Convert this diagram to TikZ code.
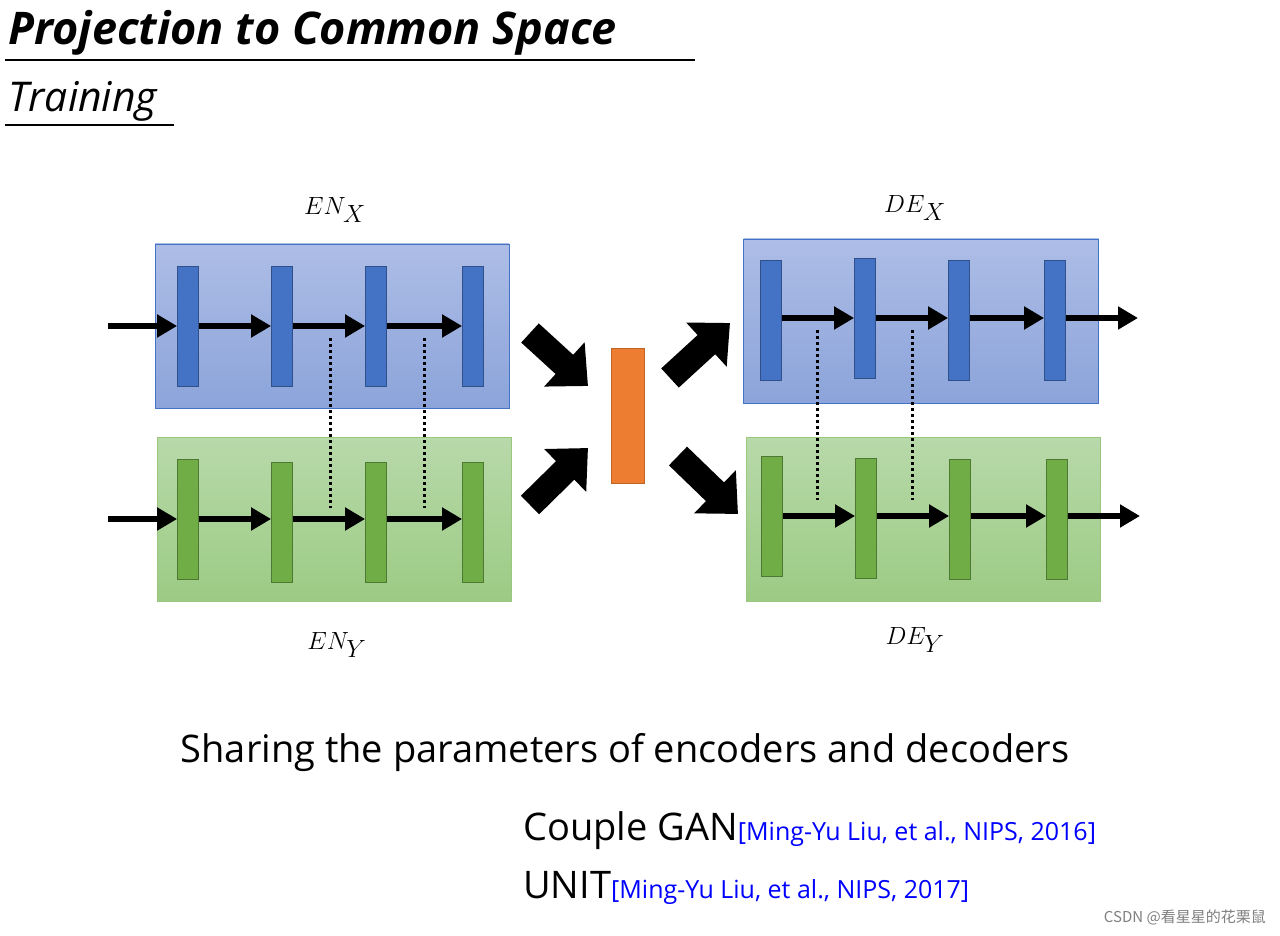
\documentclass[tikz,border=0pt]{standalone}
\usepackage{fontspec}
\setmainfont{Open Sans}
\newfontfamily\cjk{Noto Sans CJK SC}
\usetikzlibrary{arrows.meta}
\begin{document}
\begin{tikzpicture}[x=1pt,y=-1pt,
  bluebox/.style={draw=blue!50!cyan!60!black!70,line width=0.8pt,top color=blue!25!cyan!10!white!70!blue,bottom color=blue!40!white!75!black},
  arr/.style={line width=6pt,-{Triangle[length=20pt,width=22pt]}},
  big/.style={line width=26pt,-{Triangle[length=32pt,width=58pt]}},
  dot/.style={line width=3pt,dash pattern=on 3pt off 3pt},
  lab/.style={font=\fontsize{40}{44}\selectfont},
  bb/.style={draw=#1!70!black,fill=#1,line width=0.8pt,minimum width=21pt,minimum height=120pt,inner sep=0pt}]
\definecolor{bbar}{HTML}{4472C4}
\definecolor{gbar}{HTML}{70AD47}
\definecolor{btop}{HTML}{ADBDE6}\definecolor{bbot}{HTML}{8CA4DA}
\definecolor{gtop}{HTML}{B8D9AA}\definecolor{gbot}{HTML}{9CCB84}
\definecolor{orng}{HTML}{ED7D31}
\useasboundingbox (0,0) rectangle (1280,936);
\fill[white] (0,0) rectangle (1280,936);
% titles
\node[anchor=base west,inner sep=0pt,font=\fontsize{45}{50}\selectfont\bfseries\itshape] (t) at (8,45) {Projection to Common Space};
\draw[line width=1.2pt] (5,60) -- (695,60);
\node[anchor=base west,inner sep=0pt,font=\fontsize{41}{46}\selectfont\itshape] (tr) at (8,112) {Training};
\draw[line width=1.2pt] (5,125) -- (174,125);
% boxes
\node[draw=bbar,line width=0.8pt,top color=btop,bottom color=bbot,minimum width=354pt,minimum height=164pt,inner sep=0pt] (enx) at (332,326) {};
\node[draw=gbar!70,line width=0.8pt,top color=gtop,bottom color=gbot,minimum width=354pt,minimum height=164pt,inner sep=0pt] (eny) at (334,519) {};
\node[draw=bbar,line width=0.8pt,top color=btop,bottom color=bbot,minimum width=355pt,minimum height=164pt,inner sep=0pt] (dex) at (921,321) {};
\node[draw=gbar!70,line width=0.8pt,top color=gtop,bottom color=gbot,minimum width=354pt,minimum height=164pt,inner sep=0pt] (dey) at (923,519) {};
% encoder bars
\node[bb=bbar] (a1) at (188,326) {};
\node[bb=bbar] (a2) at (282,326) {};
\node[bb=bbar] (a3) at (376,326) {};
\node[bb=bbar] (a4) at (473,326) {};
\node[bb=gbar] (b1) at (188,519) {};
\node[bb=gbar] (b2) at (282,522) {};
\node[bb=gbar] (b3) at (376,522) {};
\node[bb=gbar] (b4) at (473,522) {};
\coordinate (ia) at (108,326); \coordinate (ib) at (108,519);
\draw[arr] (ia) -- (a1.west);
\draw[arr] (a1.east|-0,326) -- (a2.west|-0,326);
\draw[arr] (a2.east|-0,326) -- (a3.west|-0,326);
\draw[arr] (a3.east|-0,326) -- (a4.west|-0,326);
\draw[arr] (ib) -- (b1.west);
\draw[arr] (b1.east|-0,519) -- (b2.west|-0,519);
\draw[arr] (b2.east|-0,519) -- (b3.west|-0,519);
\draw[arr] (b3.east|-0,519) -- (b4.west|-0,519);
\draw[dot] (330,338) -- (330,508);
\draw[dot] (424,338) -- (424,508);
% decoder bars
\node[bb=bbar] (c1) at (771,320) {};
\node[bb=bbar] (c2) at (865,318) {};
\node[bb=bbar] (c3) at (959,320) {};
\node[bb=bbar] (c4) at (1055,320) {};
\node[bb=gbar] (d1) at (772,516) {};
\node[bb=gbar] (d2) at (866,518) {};
\node[bb=gbar] (d3) at (960,519) {};
\node[bb=gbar] (d4) at (1057,519) {};
\coordinate (oa) at (1138,318); \coordinate (ob) at (1140,516);
\draw[arr] (c1.east|-0,318) -- (c2.west|-0,318);
\draw[arr] (c2.east|-0,318) -- (c3.west|-0,318);
\draw[arr] (c3.east|-0,318) -- (c4.west|-0,318);
\draw[arr] (c4.east|-0,318) -- (oa);
\draw[arr] (d1.east|-0,516) -- (d2.west|-0,516);
\draw[arr] (d2.east|-0,516) -- (d3.west|-0,516);
\draw[arr] (d3.east|-0,516) -- (d4.west|-0,516);
\draw[arr] (d4.east|-0,516) -- (ob);
\draw[dot] (817,330) -- (817,500);
\draw[dot] (912,330) -- (912,500);
% code
\node[draw=orng!80!black,fill=orng,minimum width=33pt,minimum height=135pt,inner sep=0pt,line width=0.8pt] (z) at (628,416) {};
\coordinate (p1) at (530,333); \coordinate (q1) at (588,386);
\coordinate (p2) at (530,505); \coordinate (q2) at (588,448);
\coordinate (p3) at (670,378); \coordinate (q3) at (730,323);
\coordinate (p4) at (678,456); \coordinate (q4) at (738,514);
\draw[big] (p1) -- (q1);
\draw[big] (p2) -- (q2);
\draw[big] (p3) -- (q3);
\draw[big] (p4) -- (q4);
% labels
\node[lab] (l1) at (335,210) {$EN_X$};
\node[lab] (l2) at (915,208) {$DE_X$};
\node[lab] (l3) at (337,645) {$EN_Y$};
\node[lab] (l4) at (915,640) {$DE_Y$};
\node[anchor=base,inner sep=0pt,font=\fontsize{38}{44}\selectfont] (s) at (625,762) {Sharing the parameters of encoders and decoders};
\node[anchor=base west,inner sep=0pt,font=\fontsize{38}{44}\selectfont] (r1) at (523,840) {Couple GAN{\color{blue}\fontsize{25}{30}\selectfont[Ming-Yu Liu, et al., NIPS, 2016]}};
\node[anchor=base west,inner sep=0pt,font=\fontsize{38}{44}\selectfont] (r2) at (523,898) {UNIT{\color{blue}\fontsize{25}{30}\selectfont[Ming-Yu Liu, et al., NIPS, 2017]}};
\node[anchor=base east,inner sep=0pt,text=gray,font=\fontsize{15}{18}\selectfont\cjk] (w) at (1266,922) {CSDN @看星星的花栗鼠};
\end{tikzpicture}
\end{document}
